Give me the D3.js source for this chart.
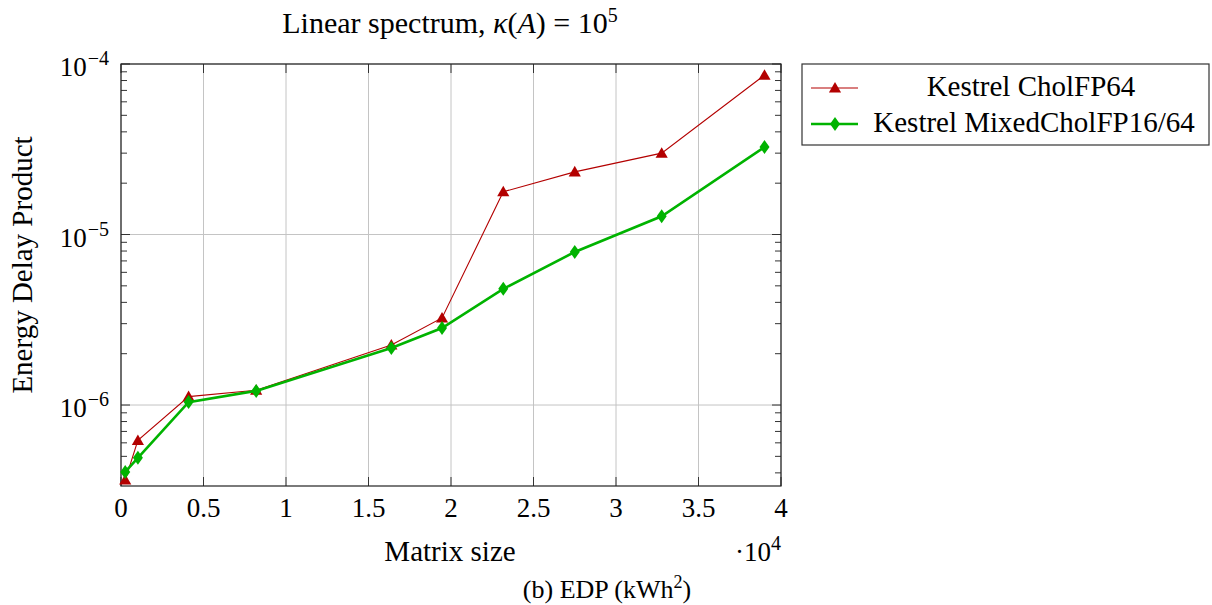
<!DOCTYPE html>
<html>
<head>
<meta charset="utf-8">
<script src="https://cdn.jsdelivr.net/npm/d3@7"></script>
<style>
  html, body { margin: 0; padding: 0; background: #fff; }
  svg text { font-family: "Liberation Serif", "DejaVu Serif", serif; fill: #000; }
</style>
</head>
<body>
<svg id="chart" width="1212" height="605"></svg>
<script>
// Matrix sizes (n) and energy-delay product for each solver
const matrixSizes = [256, 1024, 4096, 8192, 16384, 19456, 23168, 27500, 32768, 39000];
const cholFP64 = [3.63e-7, 6.2e-7, 1.12e-6, 1.22e-6, 2.25e-6, 3.24e-6, 1.78e-5, 2.33e-5, 3.0e-5, 8.6e-5];
const mixedFP16_64 = [4.05e-7, 4.9e-7, 1.04e-6, 1.21e-6, 2.16e-6, 2.83e-6, 4.8e-6, 7.9e-6, 1.28e-5, 3.26e-5];
const xTicks = [0, 5000, 10000, 15000, 20000, 25000, 30000, 35000, 40000];
const xTickLabels = ["0", "0.5", "1", "1.5", "2", "2.5", "3", "3.5", "4"];
const yMajorExps = [-6, -5, -4];
const seriesNames = ["Kestrel CholFP64", "Kestrel MixedCholFP16/64"];

const svg = d3.select("#chart");
const plot = { left: 121, right: 781, top: 64, bottom: 486 };

const x = d3.scaleLinear().domain([0, 40000]).range([plot.left, plot.right]);
const y = d3.scaleLog().domain([3.35e-7, 1e-4]).range([plot.bottom, plot.top]);

const gridColor = "#c4c4c4";
const red = "#b30000", green = "#00b300";
const wordSize = 29, numSize = 27, supSize = 20;

// grid lines
const grid = svg.append("g");
xTicks.forEach(t => {
  grid.append("line").attr("x1", x(t)).attr("x2", x(t))
    .attr("y1", plot.top).attr("y2", plot.bottom)
    .attr("stroke", gridColor).attr("stroke-width", 1);
});
yMajorExps.forEach(e => {
  grid.append("line").attr("x1", plot.left).attr("x2", plot.right)
    .attr("y1", y(Math.pow(10, e))).attr("y2", y(Math.pow(10, e)))
    .attr("stroke", gridColor).attr("stroke-width", 1);
});

// ticks (inward, on all four sides)
const ticks = svg.append("g").attr("stroke", "#333").attr("stroke-width", 1);
const majorLen = 9, minorLen = 6;
xTicks.forEach(t => {
  ticks.append("line").attr("x1", x(t)).attr("x2", x(t)).attr("y1", plot.bottom).attr("y2", plot.bottom - majorLen);
  ticks.append("line").attr("x1", x(t)).attr("x2", x(t)).attr("y1", plot.top).attr("y2", plot.top + majorLen);
});
const [ylo, yhi] = y.domain();
for (let e = -7; e <= -4; e++) {
  for (let m = 1; m <= 9; m++) {
    const v = m * Math.pow(10, e);
    if (v < ylo * 0.999 || v > yhi * 1.001) continue;
    const len = m === 1 ? majorLen : minorLen;
    const yy = y(v);
    ticks.append("line").attr("x1", plot.left).attr("x2", plot.left + len).attr("y1", yy).attr("y2", yy);
    ticks.append("line").attr("x1", plot.right).attr("x2", plot.right - len).attr("y1", yy).attr("y2", yy);
  }
}

// frame
svg.append("rect").attr("x", plot.left).attr("y", plot.top)
  .attr("width", plot.right - plot.left).attr("height", plot.bottom - plot.top)
  .attr("fill", "none").attr("stroke", "#222").attr("stroke-width", 1.2);

// x tick labels
xTicks.forEach((t, i) => {
  svg.append("text").attr("x", x(t)).attr("y", 517)
    .attr("text-anchor", "middle").attr("font-size", numSize).text(xTickLabels[i]);
});
// y tick labels 10^e
yMajorExps.forEach(e => {
  const t = svg.append("text").attr("x", 109).attr("y", y(Math.pow(10, e)) + 12)
    .attr("text-anchor", "end").attr("font-size", numSize);
  t.append("tspan").text("10");
  t.append("tspan").attr("dx", 1).attr("dy", -11).attr("font-size", supSize).text("\u2212" + (-e));
});

// axis labels
svg.append("text").attr("x", 450).attr("y", 561).attr("text-anchor", "middle")
  .attr("font-size", wordSize).text("Matrix size");
const sc = svg.append("text").attr("x", 781).attr("y", 561).attr("text-anchor", "end").attr("font-size", numSize);
sc.append("tspan").text("\u00b710");
sc.append("tspan").attr("dy", -11).attr("font-size", supSize).text("4");

svg.append("text").attr("transform", "translate(32,265) rotate(-90)")
  .attr("text-anchor", "middle").attr("font-size", wordSize).text("Energy Delay Product");

// title
const title = svg.append("text").attr("x", 450).attr("y", 33).attr("text-anchor", "middle").attr("font-size", 30);
title.append("tspan").text("Linear spectrum, ");
title.append("tspan").attr("font-style", "italic").text("\u03ba");
title.append("tspan").text("(");
title.append("tspan").attr("font-style", "italic").text("A");
title.append("tspan").text(") = 10");
title.append("tspan").attr("dy", -11).attr("font-size", supSize).text("5");

// caption
const cap = svg.append("text").attr("x", 607).attr("y", 598).attr("text-anchor", "middle").attr("font-size", 26);
cap.append("tspan").text("(b) EDP (kWh");
cap.append("tspan").attr("dy", -10).attr("font-size", 18).text("2");
cap.append("tspan").attr("dy", 10).text(")");

// series
const line = d3.line().x(d => x(d[0])).y(d => y(d[1]));
const triangle = d3.symbol().type(d3.symbolTriangle).size(64);
const diamondPath = "M0,-7L5,0L0,7L-5,0Z";

const redData = matrixSizes.map((n, i) => [n, cholFP64[i]]);
const greenData = matrixSizes.map((n, i) => [n, mixedFP16_64[i]]);

svg.append("path").datum(redData).attr("d", line).attr("fill", "none")
  .attr("stroke", red).attr("stroke-width", 1.1);
svg.append("g").selectAll("path").data(redData).join("path")
  .attr("transform", d => `translate(${x(d[0])},${y(d[1]) + 1})`)
  .attr("d", triangle).attr("fill", red);

svg.append("path").datum(greenData).attr("d", line).attr("fill", "none")
  .attr("stroke", green).attr("stroke-width", 2.6);
svg.append("g").selectAll("path").data(greenData).join("path")
  .attr("transform", d => `translate(${x(d[0])},${y(d[1])})`)
  .attr("d", diamondPath).attr("fill", green);

// legend
const lg = svg.append("g");
lg.append("rect").attr("x", 802).attr("y", 64).attr("width", 407).attr("height", 81)
  .attr("fill", "#fff").attr("stroke", "#333").attr("stroke-width", 1.2);
lg.append("line").attr("x1", 811).attr("x2", 858).attr("y1", 88).attr("y2", 88)
  .attr("stroke", red).attr("stroke-width", 1.1);
lg.append("path").attr("transform", "translate(835,89)").attr("d", triangle).attr("fill", red);
lg.append("text").attr("x", 1031).attr("y", 96).attr("text-anchor", "middle").attr("font-size", wordSize).text(seriesNames[0]);
lg.append("line").attr("x1", 811).attr("x2", 858).attr("y1", 124).attr("y2", 124)
  .attr("stroke", green).attr("stroke-width", 2.6);
lg.append("path").attr("transform", "translate(835,124)").attr("d", diamondPath).attr("fill", green);
lg.append("text").attr("x", 1034).attr("y", 132).attr("text-anchor", "middle").attr("font-size", wordSize).text(seriesNames[1]);
</script>
</body>
</html>
